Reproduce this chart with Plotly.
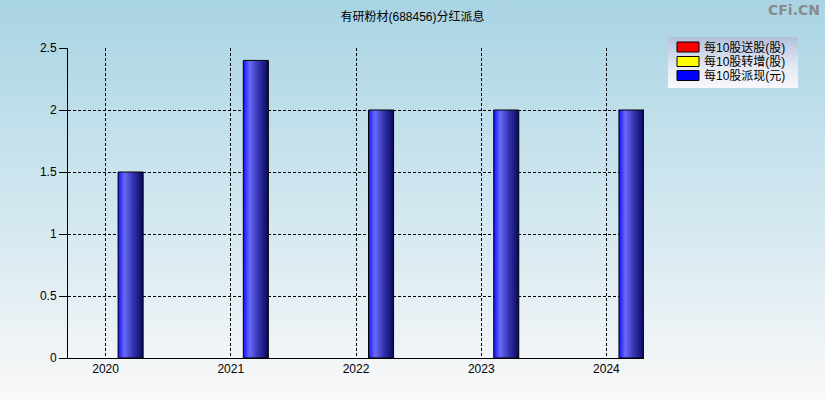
import base64
import plotly.graph_objects as go

# dividend data (per 10 shares)
years = [2020, 2021, 2022, 2023, 2024]
song_gu = [0, 0, 0, 0, 0]          # 每10股送股(股)
zhuan_zeng = [0, 0, 0, 0, 0]       # 每10股转增(股)
pai_xian = [1.5, 2.4, 2.0, 2.0, 2.0]  # 每10股派现(元)
series_names = ['每10股送股(股)', '每10股转增(股)', '每10股派现(元)']
y_ticks = [0, 0.5, 1, 1.5, 2, 2.5]
y_tick_text = ['0', '0.5', '1', '1.5', '2', '2.5']

W, H = 825, 400
L, R, T, B = 68, 181, 48, 42
PW, PH = W - L - R, H - T - B

FONT = 'Liberation Sans, Arial, Noto Sans CJK SC, sans-serif'


def px_x(p):
    return (p - L) / PW


def px_y(p):
    return (H - B - p) / PH


def svg_gradient(stops):
    # vertical linear gradient as an svg data uri
    st = ''.join(f'<stop offset="{o}" stop-color="{c}"/>' for o, c in stops)
    svg = ('<svg xmlns="http://www.w3.org/2000/svg" width="100" height="100" preserveAspectRatio="none" viewBox="0 0 100 100">'
           f'<defs><linearGradient id="g" x1="0" y1="0" x2="0" y2="1">{st}</linearGradient></defs>'
           '<rect width="100" height="100" fill="url(#g)"/></svg>')
    return 'data:image/svg+xml;base64,' + base64.b64encode(svg.encode()).decode()


fig = go.Figure()

bar_w = 0.2
offsets = [-0.2, 0.0, 0.2]
bar_scales = [
    [[0, '#ff1010'], [0.25, '#ff7070'], [0.6, '#b03838'], [1, '#600a0a']],
    [[0, '#ffff10'], [0.25, '#ffff80'], [0.6, '#b0b038'], [1, '#60600a']],
    [[0, '#1010ff'], [0.25, '#6a6af8'], [0.6, '#3434b0'], [1, '#08085a']],
]

for vals, off, cs in zip([song_gu, zhuan_zeng, pai_xian], offsets, bar_scales):
    for yr, v in zip(years, vals):
        if v <= 0:
            continue
        x0 = yr + off - bar_w / 2
        x1 = yr + off + bar_w / 2
        fig.add_trace(go.Scatter(
            x=[x0, x0, x1, x1, x0], y=[0, v, v, 0, 0],
            mode='lines', fill='toself',
            line=dict(color='black', width=1),
            fillgradient=dict(type='horizontal', colorscale=cs),
            showlegend=False, hoverinfo='skip'
        ))

# background gradient
images = [dict(
    source=svg_gradient([(0, '#a9d4e4'), (0.55, '#d4e8f0'), (1, '#faf8f8')]),
    xref='paper', yref='paper', x=px_x(0), y=px_y(0),
    sizex=W / PW, sizey=H / PH, xanchor='left', yanchor='top',
    sizing='stretch', layer='below'
)]

# legend box
lx0, lx1, ly0, ly1 = 668, 798, 37, 88
images.append(dict(
    source=svg_gradient([(0, '#b2c2dc'), (0.6, '#e6eaf4'), (1, '#f8f8fc')]),
    xref='paper', yref='paper', x=px_x(lx0), y=px_y(ly0),
    sizex=(lx1 - lx0) / PW, sizey=(ly1 - ly0) / PH, xanchor='left', yanchor='top',
    sizing='stretch', layer='below'
))

shapes = []
annotations = []
swatch_colors = ['#ff0000', '#ffff00', '#0000ff']
row_y = [47, 61.5, 75.5]
for name, col, ry in zip(series_names, swatch_colors, row_y):
    shapes.append(dict(
        type='rect', xref='paper', yref='paper',
        x0=px_x(677), x1=px_x(699), y0=px_y(ry - 5), y1=px_y(ry + 5),
        fillcolor=col, line=dict(color='black', width=1)
    ))
    annotations.append(dict(
        text=name, xref='paper', yref='paper', x=px_x(702), y=px_y(ry),
        xanchor='left', yanchor='middle', showarrow=False,
        font=dict(family=FONT, size=12, color='black')
    ))

annotations.append(dict(
    text='<b>CFi.CN</b>', xref='paper', yref='paper', x=px_x(822), y=px_y(10),
    xanchor='right', yanchor='middle', showarrow=False,
    font=dict(family='DejaVu Sans, sans-serif', size=14, color='#8a8a8a')
))

fig.update_layout(
    width=W, height=H,
    margin=dict(l=L, r=R, t=T, b=B),
    paper_bgcolor='#ffffff',
    plot_bgcolor='rgba(0,0,0,0)',
    title=dict(text='有研粉材(688456)分红派息', x=0.5, xanchor='center',
               y=1 - 17 / H, yanchor='middle',
               font=dict(family=FONT, size=12, color='black')),
    font=dict(family=FONT, size=12, color='black'),
    showlegend=False,
    images=images, shapes=shapes, annotations=annotations,
)

fig.update_xaxes(
    range=[2019.7, 2024.3], tickvals=years, ticktext=[str(y) for y in years],
    showgrid=True, gridcolor='black', gridwidth=1, griddash='3px,2px',
    showline=True, linecolor='black', linewidth=1,
    zeroline=False, ticks='', tickfont=dict(size=12)
)
fig.update_yaxes(
    range=[0, 2.5], tickvals=y_ticks, ticktext=y_tick_text,
    showgrid=True, gridcolor='black', gridwidth=1, griddash='3px,2px',
    showline=True, linecolor='black', linewidth=1,
    zeroline=False, ticks='outside', ticklen=8, tickcolor='black',
    tickfont=dict(size=12)
)

# drop the default page margin so the figure sits at the window corner
fig.write_html('out.html', config={'displayModeBar': False},
               post_script="document.body.style.margin='0';")
